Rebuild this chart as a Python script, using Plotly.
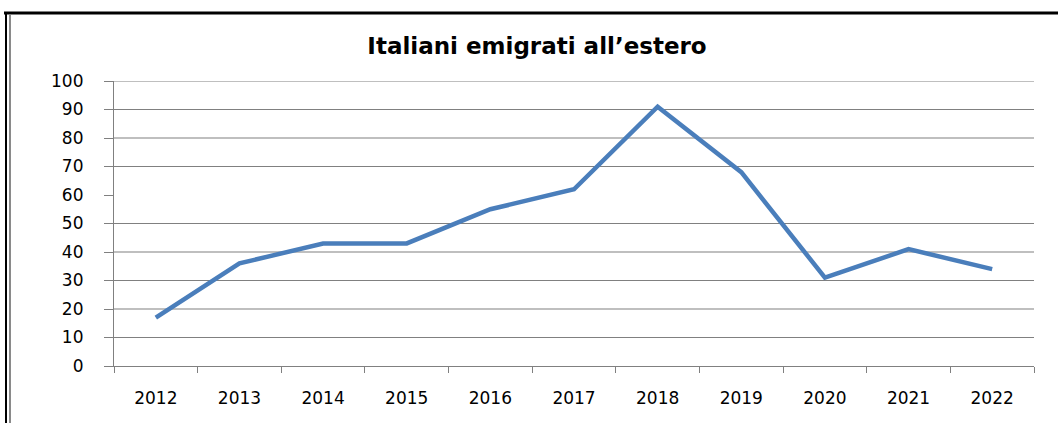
import plotly.graph_objects as go

years = ["2012", "2013", "2014", "2015", "2016", "2017", "2018", "2019", "2020", "2021", "2022"]
emigrati = [17, 36, 43, 43, 55, 62, 91, 68, 31, 41, 34]
y_ticks = [0, 10, 20, 30, 40, 50, 60, 70, 80, 90, 100]
grid_values = [10, 20, 30, 40, 50, 70, 80, 90, 100]  # the 60 gridline is not visible in the reference
title_text = "Italiani emigrati all\u2019estero"

W, H = 1058, 423
ML, MR, MT, MB = 114, 24, 81, 57
pw, ph = W - ML - MR, H - MT - MB

def px_x(p):
    return (p - ML) / pw

def px_y(p):
    return (H - MB - p) / ph

grid_col = "#808080"

fig = go.Figure()
fig.add_trace(go.Scatter(
    x=years, y=emigrati, mode="lines",
    line=dict(color="#4A7EBB", width=4.5),
    hoverinfo="x+y", showlegend=False,
))

shapes = []
for g in grid_values:
    shapes.append(dict(type="line", xref="paper", yref="y", x0=0, x1=1, y0=g, y1=g,
                       line=dict(color=grid_col, width=1.2), layer="below"))
# outer frame (top and left edges, as in the reference screenshot)
shapes.append(dict(type="line", xref="paper", yref="paper",
                   x0=px_x(4), x1=px_x(W), y0=px_y(13), y1=px_y(13),
                   line=dict(color="#000000", width=3)))
shapes.append(dict(type="line", xref="paper", yref="paper",
                   x0=px_x(6), x1=px_x(6), y0=px_y(12), y1=px_y(H),
                   line=dict(color="#000000", width=2)))
shapes.append(dict(type="line", xref="paper", yref="paper",
                   x0=px_x(10), x1=px_x(10), y0=px_y(15), y1=px_y(H),
                   line=dict(color="#8a8a8a", width=2)))

fig.update_layout(
    width=W, height=H,
    margin=dict(l=ML, r=MR, t=MT, b=MB, pad=0),
    paper_bgcolor="white", plot_bgcolor="white",
    title=dict(text=title_text, x=537 / W, xref="container", xanchor="center",
               y=1 - 46 / H, yref="container", yanchor="middle",
               font=dict(family="DejaVu Sans", size=23, color="#000000", weight="bold")),
    shapes=shapes,
    xaxis=dict(
        type="category", range=[-0.5, len(years) - 0.5],
        tickson="boundaries", ticks="outside", ticklen=6, tickcolor=grid_col, tickwidth=1,
        showline=True, linecolor=grid_col, linewidth=1.2, showgrid=False, zeroline=False,
        tickfont=dict(family="DejaVu Sans", size=17, color="#000000"),
        ticklabelstandoff=16,
    ),
    yaxis=dict(
        range=[0, 100], tickvals=y_ticks, ticktext=[str(v) for v in y_ticks],
        ticks="outside", ticklen=9, tickcolor=grid_col, tickwidth=1,
        showline=True, linecolor=grid_col, linewidth=1.2, showgrid=False, zeroline=False,
        tickfont=dict(family="DejaVu Sans", size=17, color="#000000"),
        ticklabelstandoff=17,
    ),
)

fig.write_html("out.html", config={"displayModeBar": False},
               post_script="document.body.style.margin='0';")
